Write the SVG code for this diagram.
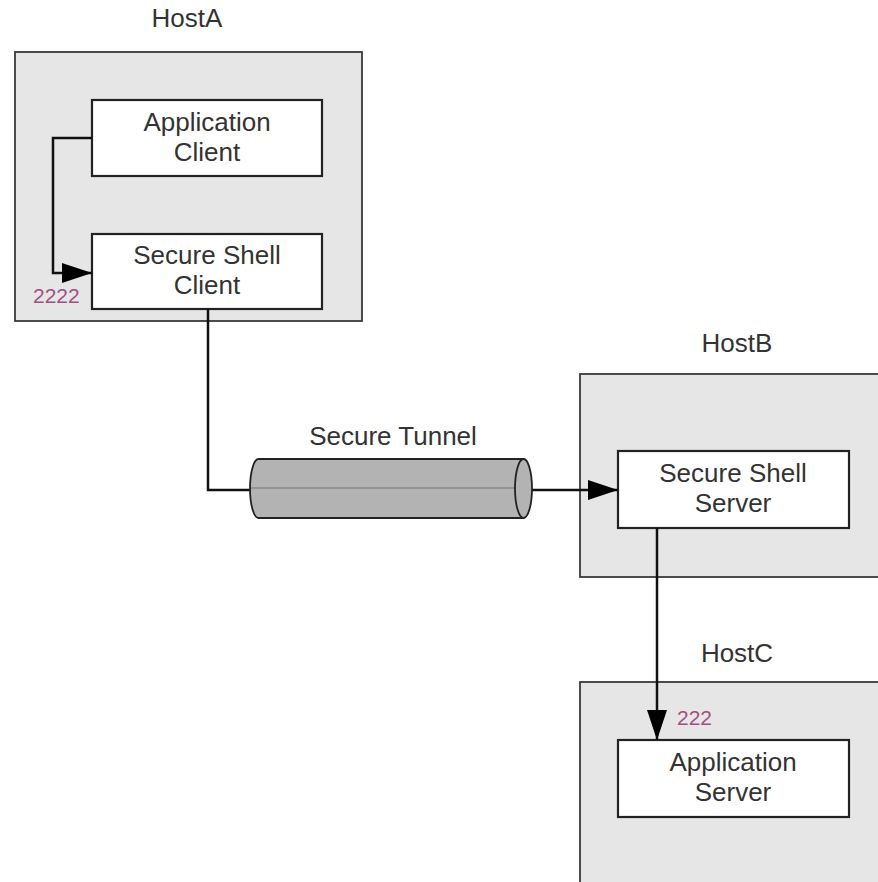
<svg xmlns="http://www.w3.org/2000/svg" width="878" height="882" viewBox="0 0 878 882">
<style>
.host{fill:#e6e6e6;stroke:#3a3a3a;stroke-width:1.8}
.box{fill:#ffffff;stroke:#222;stroke-width:2.2}
.lbl{font-family:"Liberation Sans",Arial,sans-serif;font-size:26px;fill:#333;text-anchor:middle}
.port{font-family:"Liberation Sans",Arial,sans-serif;font-size:21px;fill:#a0507f}
.conn{fill:none;stroke:#111;stroke-width:2.5}
</style>
<defs>
<marker id="arr" markerUnits="userSpaceOnUse" markerWidth="32" markerHeight="22" refX="30" refY="10" orient="auto">
<path d="M0,0 L30,10 L0,20 Z" fill="#000"/>
</marker>
</defs>
<rect width="878" height="882" fill="#fff"/>
<g id="hostA">
<rect class="host" x="15" y="52" width="347" height="269"/>
<text class="lbl" x="187" y="27">HostA</text>
</g>
<g id="hostB">
<rect class="host" x="580" y="374" width="310" height="203"/>
<text class="lbl" x="737" y="352">HostB</text>
</g>
<g id="hostC">
<rect class="host" x="580" y="682" width="310" height="220"/>
<text class="lbl" x="737" y="662">HostC</text>
</g>
<g id="appClient">
<rect class="box" x="92" y="100" width="230" height="76"/>
<text class="lbl" x="207" y="131">Application</text>
<text class="lbl" x="207" y="161">Client</text>
</g>
<g id="sshClient">
<rect class="box" x="92" y="234" width="230" height="75"/>
<text class="lbl" x="207" y="264">Secure Shell</text>
<text class="lbl" x="207" y="294">Client</text>
</g>
<g id="sshServer">
<rect class="box" x="618" y="451" width="231" height="77"/>
<text class="lbl" x="733" y="482">Secure Shell</text>
<text class="lbl" x="733" y="512">Server</text>
</g>
<g id="appServer">
<rect class="box" x="618" y="740" width="231" height="77"/>
<text class="lbl" x="733" y="771">Application</text>
<text class="lbl" x="733" y="801">Server</text>
</g>
<g id="connectors">
<path class="conn" d="M92,138 H53 V273 H92" marker-end="url(#arr)"/>
<path class="conn" d="M208,309 V490 H251"/>
<path class="conn" d="M532,490 H618" marker-end="url(#arr)"/>
<path class="conn" d="M657,528 V740" marker-end="url(#arr)"/>
<text class="port" x="33" y="303">2222</text>
<text class="port" x="677" y="725">222</text>
</g>
<g id="tunnel">
<path d="M258.5,459 H523.5 V518 H258.5 A8.5,29.5 0 0 1 258.5,459 Z" fill="#b3b3b3" stroke="#222" stroke-width="1.8"/>
<line x1="251" y1="488" x2="532" y2="488" stroke="#8a8a8a" stroke-width="1.5"/>
<ellipse cx="523.5" cy="488.5" rx="8.5" ry="29.5" fill="#b3b3b3" stroke="#222" stroke-width="1.8"/>
<text class="lbl" x="393" y="445">Secure Tunnel</text>
</g>
</svg>
